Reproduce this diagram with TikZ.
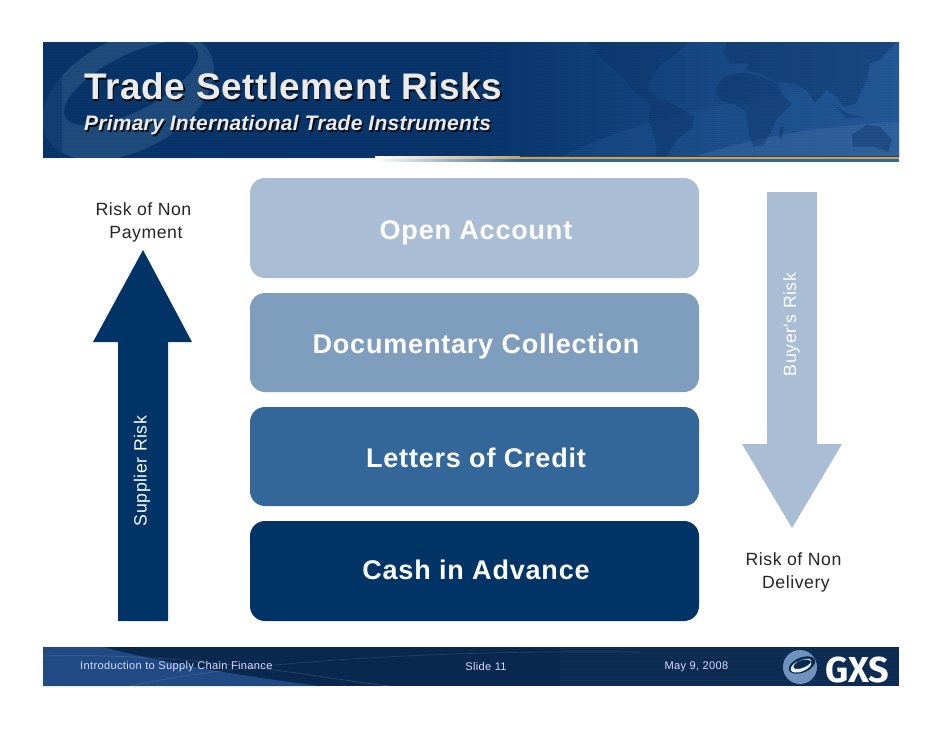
\documentclass[tikz,border=0pt]{standalone}
\usepackage{fontspec}
\setmainfont{Liberation Sans}
\newfontfamily\spaced[LetterSpace=3]{Liberation Sans}
\newfontfamily\titlefont[LetterSpace=1.6]{Liberation Sans}
\newfontfamily\subfont[LetterSpace=1.1]{Liberation Sans}
\newfontfamily\logofont{Fira Sans}
\definecolor{cOpen}{HTML}{A9BDD4}
\definecolor{cDoc}{HTML}{7F9DBD}
\definecolor{cLC}{HTML}{336699}
\definecolor{cCash}{HTML}{003366}
\definecolor{cBannerL}{HTML}{07356C}
\definecolor{cBannerR}{HTML}{245A9A}
\definecolor{cFootL}{HTML}{1F4A84}
\definecolor{cFootD}{HTML}{08284F}
\definecolor{cGold}{HTML}{BFA36C}
\definecolor{cMap}{HTML}{0B3467}
\definecolor{cSwirl}{HTML}{33608F}
\definecolor{cLogo}{HTML}{6F93BC}
\tikzset{
  x=1pt,y=-1pt,
  riskbox/.style={rounded corners=15pt},
  boxlabel/.style={text=white,font=\spaced\bfseries\fontsize{27}{30}\selectfont,anchor=base},
  sidelabel/.style={text=black!85,font=\spaced\fontsize{17.7}{23}\selectfont,align=center,anchor=center},
  vertlabel/.style={text=white,font=\spaced\fontsize{17.7}{20}\selectfont,rotate=90,anchor=center},
  footlabel/.style={text=white!85!blue,font=\spaced\fontsize{11.1}{13}\selectfont},
  landmass/.style={fill=cMap,opacity=.42},
}
\begin{document}
\begin{tikzpicture}
\useasboundingbox (0,0) rectangle (942,728);
\fill[white] (0,0) rectangle (942,728);
% banner
\fill[left color=cBannerL,right color=cBannerR,middle color=cBannerL] (43,42) rectangle (899,157);
\begin{scope}
\clip (43,42) rectangle (899,157);
\fill[cBannerR,opacity=.35] (560,158) .. controls (640,115) and (760,95) .. (899,78) -- (899,158) -- cycle;
\fill[cBannerR!85!white,opacity=.4] (690,158) .. controls (760,135) and (830,125) .. (899,122) -- (899,158) -- cycle;
% swirl
\fill[cSwirl,opacity=.55,even odd rule,rotate around={27:(128,95)}]
  (128,95) ellipse [x radius=92,y radius=56]
  (136,86) ellipse [x radius=74,y radius=28];
\fill[cBannerL,opacity=.5] (43,42) rectangle (62,157);
% map, drawn in the units of a 3x view from (580,40)
\begin{scope}[shift={(580,40)},scale=1/3]
\fill[landmass] (25,5) -- (330,5) -- (290,40) -- (240,75) -- (215,110) -- (200,150) -- (232,172) -- (215,190) -- (180,170) -- (150,140) -- (130,110) -- (90,80) -- (60,50) -- cycle;
\fill[landmass] (215,185) -- (255,180) -- (300,205) -- (345,230) -- (335,265) -- (290,300) -- (260,350) -- (245,368) -- (228,350) -- (230,310) -- (205,240) -- cycle;
\fill[landmass] (430,110) -- (490,98) -- (540,108) -- (590,130) -- (610,170) -- (635,190) -- (590,235) -- (575,270) -- (550,315) -- (520,320) -- (505,270) -- (495,210) -- (465,195) -- (420,180) -- (405,150) -- cycle;
\fill[landmass] (440,5) -- (950,5) -- (900,60) -- (870,70) -- (860,120) -- (840,160) -- (830,190) -- (790,200) -- (770,170) -- (740,150) -- (705,190) -- (680,150) -- (640,130) -- (590,125) -- (540,100) -- (495,90) -- (510,70) -- (450,70) -- (430,40) -- cycle;
\fill[landmass] (760,195) -- (800,220) -- (850,232) -- (800,235) -- cycle;
\fill[landmass] (815,285) -- (860,255) -- (900,260) -- (935,300) -- (925,335) -- (880,320) -- (820,320) -- cycle;
\fill[landmass] (600,262) -- (612,260) -- (605,295) -- (595,293) -- cycle;
\end{scope}
\foreach \yy in {43,45,...,157} \draw[black,opacity=.05,line width=.8pt] (43,\yy) -- (899,\yy);
\end{scope}
\fill[left color=white,right color=cGold] (375,156.7) rectangle (520,159.3);
\fill[cGold] (520,156.7) rectangle (899,159.3);
\fill[black!60!cGold] (520,156.2) rectangle (899,156.8);
\fill[left color=white,right color=cLC] (375,159.3) rectangle (520,161.5);
\fill[cLC] (520,159.3) rectangle (899,161.5);
% titles
\node[anchor=west,text=black,opacity=.85,font=\titlefont\bfseries\fontsize{37}{38}\selectfont,inner sep=0pt] at (85.5,88.5) {Trade Settlement Risks};
\node[anchor=west,text=white!92!black,font=\titlefont\bfseries\fontsize{37}{38}\selectfont,inner sep=0pt] (title) at (84,86.5) {Trade Settlement Risks};
\node[anchor=west,text=black,opacity=.85,font=\subfont\bfseries\itshape\fontsize{21}{24}\selectfont,inner sep=0pt] at (85.5,127) {Primary International Trade Instruments};
\node[anchor=west,text=white!92!black,font=\subfont\bfseries\itshape\fontsize{21}{24}\selectfont,inner sep=0pt] (subtitle) at (84,125.5) {Primary International Trade Instruments};
% boxes
\fill[riskbox,cOpen] (250,178) rectangle (699,278);
\fill[riskbox,cDoc] (250,293) rectangle (699,392);
\fill[riskbox,cLC] (250,407) rectangle (699,506);
\fill[riskbox,cCash] (250,521) rectangle (699,621);
\node[boxlabel] (open) at (476,239.5) {Open Account};
\node[boxlabel] (doc) at (476,353.5) {Documentary Collection};
\node[boxlabel] (lc) at (476,467.5) {Letters of Credit};
\node[boxlabel] (cash) at (476,579.5) {Cash in Advance};
% arrows
\fill[cCash] (143,250) -- (192,342) -- (168,342) -- (168,621) -- (118,621) -- (118,342) -- (93,342) -- cycle;
\fill[cOpen] (767,192) -- (817,192) -- (817,444) -- (842,444) -- (792,528) -- (742,444) -- (767,444) -- cycle;
% side labels
\node[sidelabel] (nonpay) at (143.5,222) {Risk of Non\\\hspace*{5pt}Payment};
\node[sidelabel] (nondel) at (793.5,572) {Risk of Non\\\hspace*{5pt}Delivery};
\node[vertlabel] (supplier) at (142,471) {Supplier Risk};
\node[vertlabel] (buyer) at (791.5,324.5) {Buyer's Risk};
% footer
\fill[cFootD] (43,647) rectangle (899,686);
\fill[cFootL] (43,647) -- (103,647) .. controls (170,665) and (270,680) .. (320,686) -- (43,686) -- cycle;
\draw[white,opacity=.15,line width=.7pt] (43,656) .. controls (200,652) and (330,680) .. (390,686);
\draw[white,opacity=.12,line width=.7pt] (130,686) .. controls (250,660) and (450,650) .. (640,652);
\foreach \yy in {648,650,...,684} \draw[white,opacity=.04,line width=.7pt] (560,\yy) -- (899,\yy);
\node[footlabel,anchor=west,inner sep=0pt] (ftitle) at (80,667) {Introduction to Supply Chain Finance};
\node[footlabel,anchor=center,inner sep=0pt] (fslide) at (486,667) {Slide 11};
\node[footlabel,anchor=center,inner sep=0pt] (fdate) at (696.5,667) {May 9, 2008};
% logo
\fill[cLogo] (800,667) circle (17);
\fill[cFootD,rotate around={22:(802,665)}] (802,665) ellipse [x radius=14,y radius=7.5];
\fill[white!85!cLogo,even odd rule,rotate around={22:(801,666)}] (801,666) ellipse [x radius=11,y radius=5.5] (803,664.5) ellipse [x radius=9.5,y radius=4];
\node[text=white,font=\logofont\bfseries\fontsize{36}{38}\selectfont,inner sep=0pt] (gxs) at (857.5,670.5) {GXS};
\end{tikzpicture}
\end{document}
